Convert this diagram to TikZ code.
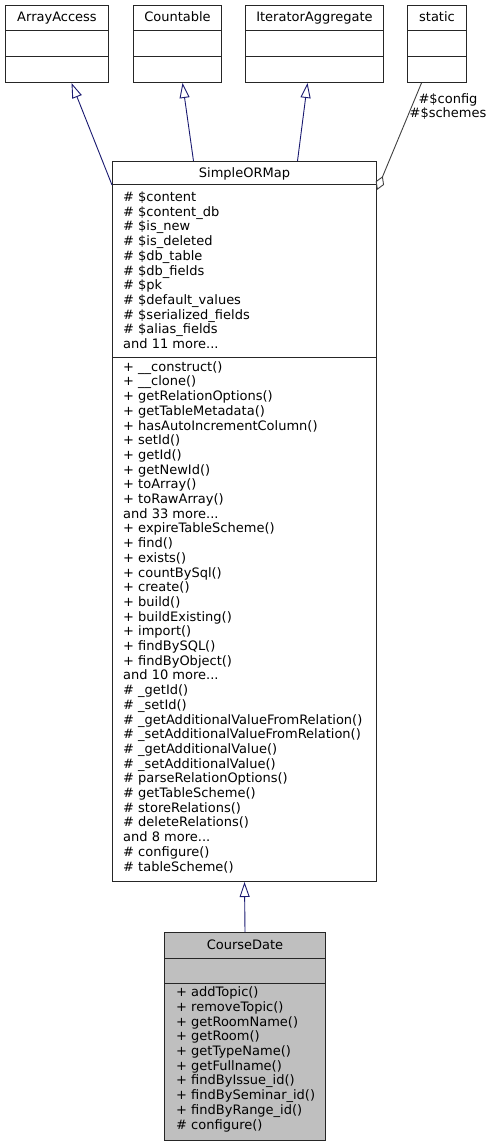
\documentclass[tikz,border=0pt]{standalone}
\usepackage{fontspec}
\setmainfont{DejaVu Sans}
\usetikzlibrary{arrows.meta}
\definecolor{inhblue}{HTML}{191970}
\definecolor{usegrey}{HTML}{404040}
\definecolor{boxgrey}{HTML}{BFBFBF}

\begin{document}
\begin{tikzpicture}[x=1pt, y=-1pt,
    cls/.style={rectangle, draw=black!85, line width=1pt, fill=white,
                anchor=north west, inner sep=0pt},
    ttl/.style={anchor=base, inner sep=0pt, font=\fontsize{13}{14.7}\selectfont},
    mem/.style={anchor=base west, inner sep=0pt, align=left,
                font=\fontsize{13}{14.7}\selectfont},
    lbl/.style={anchor=base, inner sep=0pt, align=center,
                font=\fontsize{13}{14}\selectfont},
    sep/.style={draw=black!85, line width=1pt},
    inh/.style={-{Triangle[open, length=15pt, width=10pt]}, inhblue, line width=0.9pt},
    agg/.style={{Diamond[open, length=15pt, width=9pt]}-, usegrey, line width=0.9pt},
]
\useasboundingbox (0,0) rectangle (491,1147);

% interfaces on top
\node[cls, minimum width=103pt, minimum height=77pt] (arrayaccess)       at (5,5)   {};
\node[cls, minimum width=88pt,  minimum height=77pt] (countable)         at (133,5) {};
\node[cls, minimum width=138pt, minimum height=77pt] (iteratoraggregate) at (245,5) {};
\node[cls, minimum width=59pt,  minimum height=77pt] (static)            at (407,5) {};

\foreach \n in {arrayaccess, countable, iteratoraggregate, static} {
  \draw[sep] ([yshift=-26pt]\n.north west) -- ([yshift=-26pt]\n.north east);
  \draw[sep] ([yshift=-52pt]\n.north west) -- ([yshift=-52pt]\n.north east);
}

\node[ttl] (arrayaccess-t)       at ([yshift=-16.5pt]arrayaccess.north)       {ArrayAccess};
\node[ttl] (countable-t)         at ([yshift=-16.5pt]countable.north)         {Countable};
\node[ttl] (iteratoraggregate-t) at ([yshift=-16.5pt]iteratoraggregate.north) {IteratorAggregate};
\node[ttl] (static-t)            at ([yshift=-16.5pt]static.north)            {static};

% base class
\node[cls, minimum width=264pt, minimum height=720pt] (simpleormap) at (112,161) {};
\draw[sep] ([yshift=-24pt]simpleormap.north west) -- ([yshift=-24pt]simpleormap.north east);
\draw[sep] ([yshift=-196pt]simpleormap.north west) -- ([yshift=-196pt]simpleormap.north east);
\node[ttl] (simpleormap-t) at ([yshift=-16.5pt]simpleormap.north) {SimpleORMap};

% base of a multi-line node = baseline of its last line
\node[mem] (simpleormap-a) at ([xshift=11pt, yshift=-187.5pt]simpleormap.north west) {%
  \# \$content\\
  \# \$content\_db\\
  \# \$is\_new\\
  \# \$is\_deleted\\
  \# \$db\_table\\
  \# \$db\_fields\\
  \# \$pk\\
  \# \$default\_values\\
  \# \$serialized\_fields\\
  \# \$alias\_fields\\
  and 11 more...};

\node[mem] (simpleormap-m) at ([xshift=11pt, yshift=-710pt]simpleormap.north west) {%
  + \_\_construct()\\
  + \_\_clone()\\
  + getRelationOptions()\\
  + getTableMetadata()\\
  + hasAutoIncrementColumn()\\
  + setId()\\
  + getId()\\
  + getNewId()\\
  + toArray()\\
  + toRawArray()\\
  and 33 more...\\
  + expireTableScheme()\\
  + find()\\
  + exists()\\
  + countBySql()\\
  + create()\\
  + build()\\
  + buildExisting()\\
  + import()\\
  + findBySQL()\\
  + findByObject()\\
  and 10 more...\\
  \# \_getId()\\
  \# \_setId()\\
  \# \_getAdditionalValueFromRelation()\\
  \# \_setAdditionalValueFromRelation()\\
  \# \_getAdditionalValue()\\
  \# \_setAdditionalValue()\\
  \# parseRelationOptions()\\
  \# getTableScheme()\\
  \# storeRelations()\\
  \# deleteRelations()\\
  and 8 more...\\
  \# configure()\\
  \# tableScheme()};

% derived class
\node[cls, fill=boxgrey, minimum width=161pt, minimum height=208pt] (coursedate) at (164,932) {};
\draw[sep] ([yshift=-26pt]coursedate.north west) -- ([yshift=-26pt]coursedate.north east);
\draw[sep] ([yshift=-51pt]coursedate.north west) -- ([yshift=-51pt]coursedate.north east);
\node[ttl] (coursedate-t) at ([yshift=-17pt]coursedate.north) {CourseDate};

\node[mem] (coursedate-m) at ([xshift=12pt, yshift=-197pt]coursedate.north west) {%
  + addTopic()\\
  + removeTopic()\\
  + getRoomName()\\
  + getRoom()\\
  + getTypeName()\\
  + getFullname()\\
  + findByIssue\_id()\\
  + findBySeminar\_id()\\
  + findByRange\_id()\\
  \# configure()};

% connectors
\draw[inh] ([yshift=-24pt]simpleormap.north west) -- ([xshift=14.5pt]arrayaccess.south);
\draw[inh] ([xshift=-51pt]simpleormap.north) -- ([xshift=5pt]countable.south);
\draw[inh] ([xshift=53pt]simpleormap.north) -- ([xshift=-7pt]iteratoraggregate.south);
\draw[agg] ([yshift=-29pt]simpleormap.north east) -- ([xshift=-15.5pt]static.south);
\draw[inh] (coursedate.north) -- (simpleormap.south);

\node[lbl] (agg-lbl) at (448,117.5) {\#\$config\\\#\$schemes};
\end{tikzpicture}
\end{document}
